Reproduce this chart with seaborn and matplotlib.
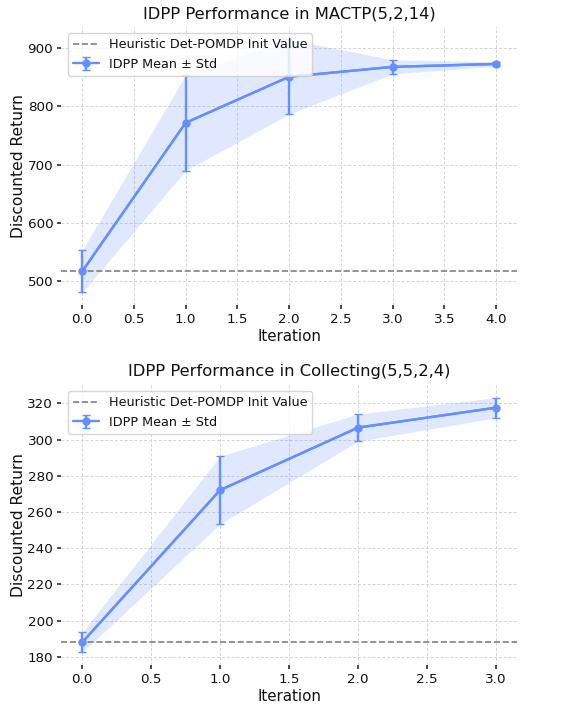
import numpy as np
import pandas as pd
import matplotlib
matplotlib.use("Agg")
import matplotlib.pyplot as plt
import seaborn as sns

# ---- data ----
mactp_iter = [0, 1, 2, 3, 4]
mactp_mean = [517, 772, 851, 868, 873]
mactp_std = [36, 82, 64, 12, 4]
mactp_baseline = 517

coll_iter = [0, 1, 2, 3]
coll_mean = [188.0, 272.1, 306.6, 317.6]
coll_std = [5.5, 18.7, 7.5, 5.6]
coll_baseline = 188

titles = ["IDPP Performance in MACTP(5,2,14)", "IDPP Performance in Collecting(5,5,2,4)"]
baseline_label = "Heuristic Det-POMDP Init Value"
series_label = "IDPP Mean ± Std"
xlabel = "Iteration"
ylabel = "Discounted Return"

sns.set_theme(style="whitegrid")
plt.rcParams['font.family'] = ['DejaVu Sans']
plt.rcParams['text.color'] = '#111111'
plt.rcParams['axes.labelcolor'] = '#111111'
plt.rcParams['xtick.color'] = '#111111'
plt.rcParams['ytick.color'] = '#111111'

color = "#648FFF"

fig = plt.figure(figsize=(5.8, 7.06), dpi=100)
ax1 = fig.add_axes([0.106, 0.568, 0.785, 0.394])
ax2 = fig.add_axes([0.106, 0.058, 0.785, 0.397])

datasets = [
    (ax1, mactp_iter, mactp_mean, mactp_std, mactp_baseline, titles[0]),
    (ax2, coll_iter, coll_mean, coll_std, coll_baseline, titles[1]),
]

for ax, it, mean, std, base, title in datasets:
    df = pd.DataFrame({"it": it, "mean": mean, "std": std})
    lo = df["mean"] - df["std"]
    hi = df["mean"] + df["std"]
    ax.axhline(base, color="gray", linestyle="--", linewidth=1.2, label=baseline_label)
    ax.fill_between(df["it"], lo, hi, color=color, alpha=0.2, linewidth=0)
    sns.lineplot(data=df, x="it", y="mean", ax=ax, color=color, linewidth=1.7, legend=False)
    ax.errorbar(df["it"], df["mean"], yerr=df["std"], fmt="-o", color=color,
                linewidth=1.7, markersize=5, capsize=3, elinewidth=1.7, label=series_label)
    ax.set_title(title, fontsize=11.8)
    ax.set_xlabel(xlabel, fontsize=10.8, labelpad=2)
    ax.set_ylabel(ylabel, fontsize=11.2, labelpad=1)
    ax.tick_params(axis="both", labelsize=9.7, length=3, color="#333333", direction="out",
                   left=True, bottom=True, pad=3)
    ax.grid(True, linestyle=(0, (3, 2)), color="#d4d4d4", linewidth=0.7)
    for s in ax.spines.values():
        s.set_visible(False)
    ax.legend(loc="upper left", fontsize=9.2, frameon=True)

fig.savefig("out.png", dpi=100)
